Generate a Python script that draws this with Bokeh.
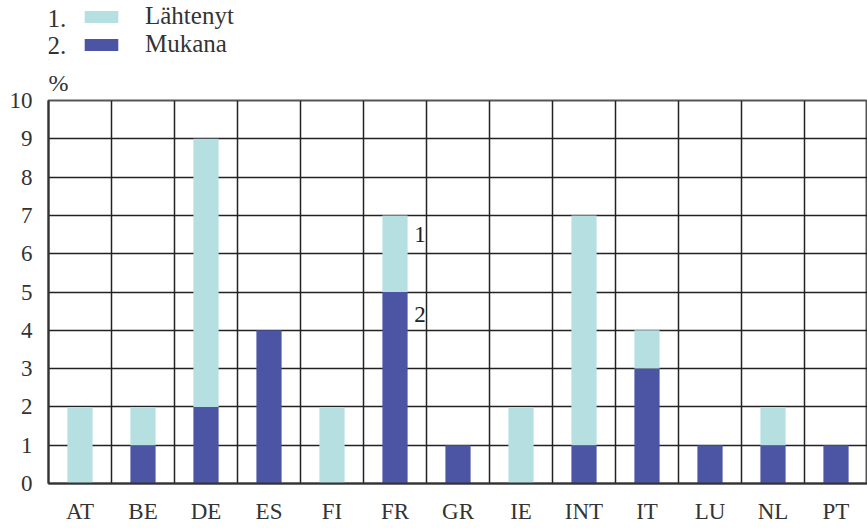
from bokeh.plotting import figure
from bokeh.layouts import column
from bokeh.models import (ColumnDataSource, Range1d, FixedTicker, Legend, LegendItem)
from bokeh.core.properties import value
from bokeh.embed import file_html
from bokeh.resources import INLINE

categories = ["AT", "BE", "DE", "ES", "FI", "FR", "GR", "IE", "INT", "IT", "LU", "NL", "PT"]
mukana = [0, 1, 2, 4, 0, 5, 1, 0, 1, 3, 1, 1, 1]
lahtenyt = [2, 1, 7, 0, 2, 2, 0, 2, 6, 1, 0, 1, 0]
y_ticks = list(range(0, 11))
series_names = ["Lähtenyt", "Mukana"]
series_numbers = ["1.", "2."]
unit_label = "%"
note_labels = ["1", "2"]
note_values = [6.5, 4.4]
note_category = "FR"

FONT = "Liberation Serif"
TXT = "#333333"
LIGHT = "#b6dfe1"
DARK = "#4b55a4"
W = 867
LEFT = 48
HEAD = 60

# ---------- header (legend): data coords == pixels, y measured up from header bottom ----------
top = figure(width=W, height=HEAD, output_backend="svg", toolbar_location=None,
             x_range=Range1d(LEFT, W), y_range=Range1d(0, HEAD),
             min_border_left=LEFT, min_border_right=0, min_border_top=0, min_border_bottom=0,
             x_axis_type=None, y_axis_type=None)
top.outline_line_color = None
top.xgrid.visible = False
top.ygrid.visible = False
dummy = ColumnDataSource(dict(x=[-1000], top=[1]))
r_light = top.vbar(x="x", top="top", width=1, color=LIGHT, line_color=None, source=dummy)
r_dark = top.vbar(x="x", top="top", width=1, color=DARK, line_color=None, source=dummy)
legend = Legend(items=[LegendItem(label=series_names[0], renderers=[r_light]),
                       LegendItem(label=series_names[1], renderers=[r_dark])],
                location=(80 - LEFT, 2), orientation="vertical",
                glyph_width=42, glyph_height=15, label_height=15, label_standoff=23,
                spacing=0, padding=0, margin=0,
                border_line_color=None, background_fill_alpha=0,
                label_text_font=FONT, label_text_font_size="25px", label_text_color=TXT)
top.add_layout(legend)
top.text(x=[47, 47], y=[42.5, 15.5], text=series_numbers,
         text_font=value(FONT), text_font_size="25px", text_color=TXT,
         text_baseline="middle", text_align="left")

# ---------- main chart ----------
xpos = [i + 0.5 for i in range(len(categories))]
source = ColumnDataSource(dict(x=xpos, mukana=mukana, lahtenyt=lahtenyt))

p = figure(width=W, height=528 - HEAD, output_backend="svg", toolbar_location=None,
           x_range=Range1d(0, len(categories)), y_range=Range1d(0, 10),
           min_border_left=LEFT, min_border_right=0, min_border_top=100 - HEAD,
           min_border_bottom=45, title=unit_label)
p.title.text_font = FONT
p.title.text_font_size = "24px"
p.title.text_font_style = "normal"
p.title.text_color = TXT
p.title.align = "left"
p.title.offset = 0
p.title.standoff = 9
p.background_fill_color = "white"
p.border_fill_color = "white"
p.outline_line_color = "#555555"
p.outline_line_width = 2

rs = p.vbar_stack(["mukana", "lahtenyt"], x="x", width=0.4, color=[DARK, LIGHT],
                  line_color=None, source=source)

p.xaxis.ticker = FixedTicker(ticks=xpos)
p.xaxis.major_label_overrides = {x: c for x, c in zip(xpos, categories)}
p.yaxis.ticker = FixedTicker(ticks=y_ticks)
for ax in (p.xaxis[0], p.yaxis[0]):
    ax.major_tick_line_color = None
    ax.minor_tick_line_color = None
    ax.axis_line_color = "#333333"
    ax.axis_line_width = 2
    ax.major_label_text_font = FONT
    ax.major_label_text_color = TXT
p.xaxis.major_label_text_font_size = "23px"
p.yaxis.major_label_text_font_size = "23px"
p.xaxis.major_label_standoff = 9
p.yaxis.major_label_standoff = 10

p.xgrid.ticker = FixedTicker(ticks=list(range(len(categories) + 1)))
p.xgrid.grid_line_color = "#222222"
p.xgrid.grid_line_width = 1.5
p.ygrid.grid_line_color = "#222222"
p.ygrid.grid_line_width = 1.5

fi = categories.index(note_category)
p.text(x=[xpos[fi]] * 2, y=note_values, text=note_labels, x_offset=25,
       text_font=value(FONT), text_font_size="23px", text_color="#222222",
       text_baseline="middle", text_align="center")

layout = column(top, p, spacing=0)
open("out.html", "w").write(file_html(layout, INLINE))
